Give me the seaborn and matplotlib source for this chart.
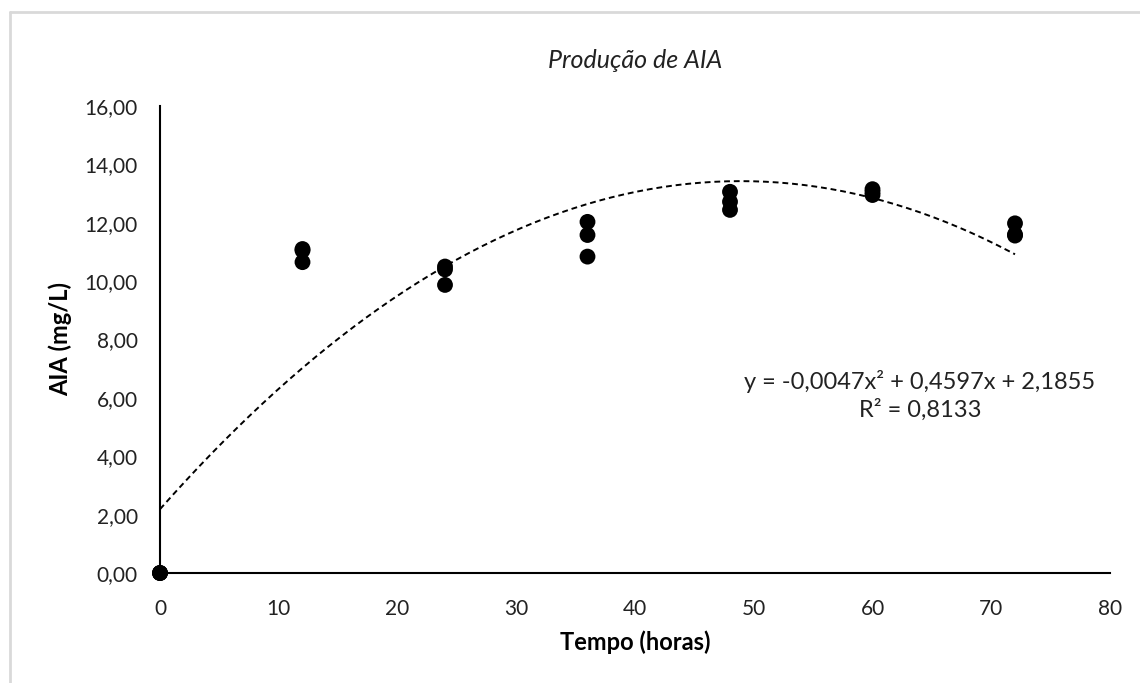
import numpy as np
import pandas as pd
import matplotlib
matplotlib.use("Agg")
import matplotlib.pyplot as plt
from matplotlib.lines import Line2D
from matplotlib.ticker import FuncFormatter, MultipleLocator
import seaborn as sns

# Measured IAA concentration (mg/L) at each sampling time (hours)
tempo = [0, 0, 0, 12, 12, 12, 24, 24, 24, 36, 36, 36, 48, 48, 48, 60, 60, 60, 72, 72, 72]
aia = [0.00, 0.00, 0.00,
       11.10, 11.05, 10.65,
       10.50, 10.40, 9.87,
       12.03, 11.58, 10.84,
       13.06, 12.72, 12.44,
       13.15, 13.05, 12.95,
       11.98, 11.60, 11.56]

# Polynomial trend line coefficients (order 2) and its R²
coef_a, coef_b, coef_c = -0.0047, 0.4597, 2.1855
r2 = 0.8133

df = pd.DataFrame({"Tempo": tempo, "AIA": aia})

sns.set_theme(style="white")
plt.rcParams["font.family"] = ["Lato", "DejaVu Sans"]

fig = plt.figure(figsize=(11.4, 6.83), dpi=100)
ax = fig.add_axes([160 / 1140, 1 - 573 / 683, 950 / 1140, (573 - 106) / 683])

xs = np.linspace(0, 72, 200)
ax.plot(xs, coef_a * xs**2 + coef_b * xs + coef_c, color="black",
        lw=1.4, linestyle=(0, (3, 2)), zorder=2)

sns.scatterplot(data=df, x="Tempo", y="AIA", ax=ax, color="black",
                s=130, edgecolor="none", zorder=3, clip_on=False)

ax.set_xlim(0, 80)
ax.set_ylim(0, 16)
ax.xaxis.set_major_locator(MultipleLocator(10))
ax.yaxis.set_major_locator(MultipleLocator(2))
ax.yaxis.set_major_formatter(FuncFormatter(lambda v, p: f"{v:.2f}".replace(".", ",")))

for side in ("top", "right"):
    ax.spines[side].set_visible(False)
for side in ("left", "bottom"):
    ax.spines[side].set_color("black")
    ax.spines[side].set_linewidth(1.5)

ax.tick_params(axis="x", length=0, pad=19, labelsize=15, colors="#222222")
ax.tick_params(axis="y", length=0, pad=16, labelsize=15, colors="#222222")

ax.set_xlabel("Tempo (horas)", fontsize=17, fontweight="bold", labelpad=8, color="black")
ax.set_ylabel("AIA (mg/L)", fontsize=17, fontweight="bold", labelpad=9, color="black")

fig.text(635 / 1140, 1 - 60 / 683, "Produção de AIA", ha="center", va="center",
         fontsize=18, fontstyle="italic", color="#222222")

eq = (f"y = {coef_a:.4f}x² + {coef_b:.4f}x + {coef_c:.4f}".replace(".", ","))
ax.text(0.8, 0.381, eq + "\n" + f"R² = {r2:.4f}".replace(".", ","),
        transform=ax.transAxes, ha="center", va="center", fontsize=17,
        linespacing=1.3, color="#222222")

# Light chart border
border = dict(color="#d9d9d9", lw=2, transform=fig.transFigure)
fig.add_artist(Line2D([10 / 1140, 1], [1 - 12 / 683, 1 - 12 / 683], **border))
fig.add_artist(Line2D([10 / 1140, 10 / 1140], [0, 1 - 12 / 683], **border))

fig.savefig("out.png", dpi=100, facecolor="white")
